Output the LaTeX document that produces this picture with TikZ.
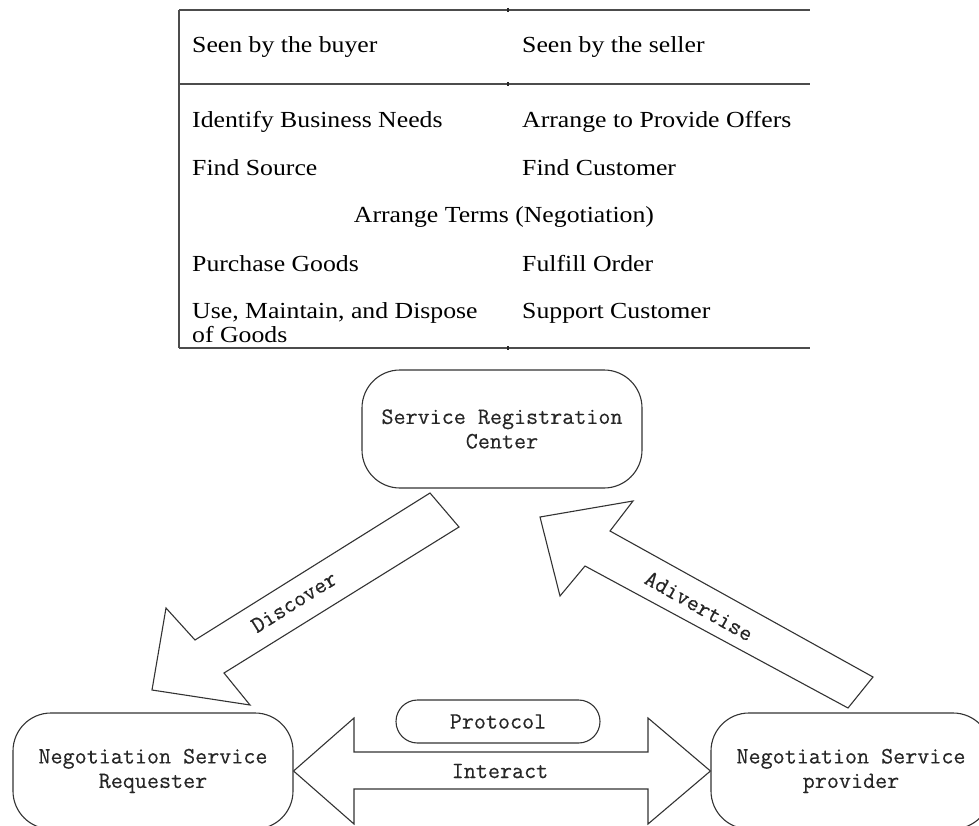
\documentclass[tikz,border=0pt]{standalone}
\usepackage{fontspec}
\setmainfont{Liberation Serif}[FakeStretch=1.12]
\newfontfamily\boxfont{Latin Modern Mono}[FakeBold=0.35]
\begin{document}
\begin{tikzpicture}[x=1pt,y=-1pt,
  rule/.style={draw=black!70,line width=1.3pt},
  tick/.style={draw=black!85,line width=2.2pt},
  cell/.style={anchor=base west,inner sep=0pt,font=\fontsize{23}{24}\selectfont},
  rbox/.style={draw=black!80,line width=1.1pt,rounded corners=38pt},
  blockarrow/.style={draw=black!80,line width=1.1pt,line join=miter,fill=white},
  mono/.style={font=\fontsize{23.4}{24.5}\boxfont,text=black!85,align=center,inner sep=0pt}]
\useasboundingbox (0,0) rectangle (979,826);
\clip (0,0) rectangle (979,826);

% ---- buyer / seller table ----
\draw[rule] (179,10) -- (810,10);
\draw[rule] (179,84) -- (810,84);
\draw[rule] (179,348) -- (810,348);
\draw[rule] (179,10) -- (179,348);
\foreach \yy in {10,84,348} \draw[tick] (508,\yy-2) -- (508,\yy+2);

\node[cell] (hb) at (192,53) {Seen by the buyer};
\node[cell] (hs) at (522,53) {Seen by the seller};
\node[cell] (b1) at (192,128) {Identify Business Needs};
\node[cell] (s1) at (522,128) {Arrange to Provide Offers};
\node[cell] (b2) at (192,176) {Find Source};
\node[cell] (s2) at (522,176) {Find Customer};
\node[cell,anchor=base] (mid) at (504,223) {Arrange Terms (Negotiation)};
\node[cell] (b3) at (192,271) {Purchase Goods};
\node[cell] (s3) at (522,271) {Fulfill Order};
\node[cell] (b4) at (192,318) {Use, Maintain, and Dispose};
\node[cell] (b5) at (192,342) {of Goods};
\node[cell] (s4) at (522,318) {Support Customer};

% ---- service boxes ----
\node[rbox,mono,minimum width=280pt,minimum height=118pt] (src) at (502,429)
  {Service Registration\\Center};
\node[rbox,mono,minimum width=280pt,minimum height=116pt] (req) at (153,771)
  {Negotiation Service\\Requester};
\node[rbox,mono,minimum width=280pt,minimum height=116pt] (prov) at (851,771)
  {Negotiation Service\\provider};

% ---- block arrows ----
\draw[blockarrow] (430,493) -- (195,640) -- (166,608) -- (152,690) -- (250,705)
  -- (224,673) -- (459,527) -- cycle;
\node[mono,rotate=32] (disc) at (294,602) {Discover};

\draw[blockarrow] (540,517) -- (633,501) -- (610,531) -- (873,677) -- (848,708)
  -- (585,566) -- (560,596) -- cycle;
\node[mono,rotate=-29.5] (adv) at (699,606) {Adivertise};

\draw[blockarrow] (req.east) -- (354,718) -- (354,752) -- (648,752) -- (648,718)
  -- (prov.west) -- (648,824) -- (648,789) -- (354,789) -- (354,824) -- cycle;
\node[mono] (inter) at (500,771) {Interact};

\node[rbox,mono,rounded corners=21.5pt,minimum width=204pt,minimum height=43pt]
  (proto) at (498,721.5) {Protocol};
\end{tikzpicture}
\end{document}
